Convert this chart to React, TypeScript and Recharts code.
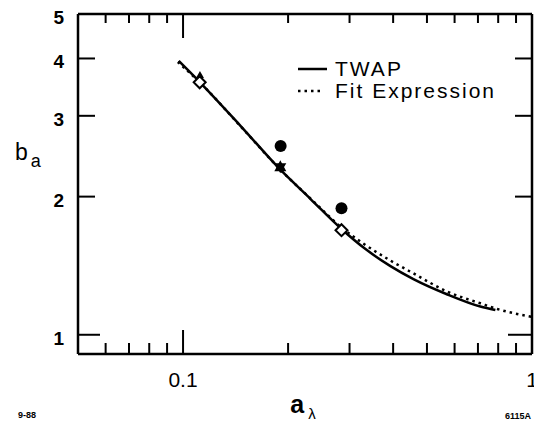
import { ComposedChart, Line, Scatter, XAxis, YAxis, Legend, Label } from "recharts";

const FONT = '"Liberation Sans", Arial, Helvetica, sans-serif';

// axis ticks (log scales)
const xTicks = [0.06, 0.07, 0.08, 0.09, 0.1, 0.2, 0.3, 0.4, 0.5, 0.6, 0.7, 0.8, 0.9, 1];
const xMajor = [0.1, 1];
const xTickLabels = ["0.1", "1"];
const yTicks = [1, 2, 3, 4, 5];
const yTickLabels = ["1", "2", "3", "4", "5"];

const legendOrder = ["TWAP", "Fit Expression"];

// TWAP curve
const twapX = [0.0972, 0.1116, 0.1463, 0.1904, 0.232, 0.2845, 0.3333, 0.393, 0.4573, 0.5724, 0.7112, 0.7853];
const twapY = [3.95, 3.554, 2.85, 2.286, 1.976, 1.7, 1.537, 1.411, 1.322, 1.224, 1.152, 1.132];

// fit expression curve
const fitX = [0.0966, 0.1116, 0.1463, 0.1904, 0.232, 0.2845, 0.3333, 0.393, 0.4573, 0.5724, 0.7112, 0.7955, 1];
const fitY = [3.93, 3.55, 2.845, 2.286, 1.98, 1.713, 1.569, 1.451, 1.361, 1.241, 1.171, 1.138, 1.094];

// markers
const diamondX = [0.1116, 0.2845];
const diamondY = [3.55, 1.69];
const circleX = [0.1904, 0.2845];
const circleY = [2.578, 1.886];
const starX = [0.19];
const starY = [2.317];
const triX = [0.1118];
const triY = [3.68];

const zip = (xs: number[], ys: number[]) => xs.map((x, i) => ({ x, y: ys[i] }));

const twap = zip(twapX, twapY);
const fit = zip(fitX, fitY);
const diamonds = zip(diamondX, diamondY);
const circles = zip(circleX, circleY);
const stars = zip(starX, starY);
const tris = zip(triX, triY);

function BottomTick({ x, y, payload }: any) {
  const i = xMajor.indexOf(payload.value);
  const major = i >= 0;
  return (
    <g>
      <line x1={x} x2={x} y1={y} y2={y - (major ? 24 : 11)} stroke="#000" strokeWidth={2} />
      {major && (
        <text x={x} y={y + 33} textAnchor="middle" fontSize={21} fontFamily={FONT} fill="#000">
          {xTickLabels[i]}
        </text>
      )}
    </g>
  );
}

function TopTick({ x, y, payload }: any) {
  const major = xMajor.includes(payload.value);
  return <line x1={x} x2={x} y1={y} y2={y + (major ? 24 : 9)} stroke="#000" strokeWidth={2} />;
}

function LeftTick({ x, y, payload }: any) {
  const i = yTicks.indexOf(payload.value);
  const len = payload.value === 5 ? 0 : payload.value === 1 ? 22 : 17;
  return (
    <g>
      {len > 0 && <line x1={x} x2={x + len} y1={y} y2={y} stroke="#000" strokeWidth={2} />}
      <text x={x - 14} y={y + 10} textAnchor="end" fontSize={19} fontWeight="bold" fontFamily={FONT} fill="#000">
        {yTickLabels[i]}
      </text>
    </g>
  );
}

function RightTick({ x, y, payload }: any) {
  const len = payload.value === 5 ? 0 : payload.value === 1 ? 24 : 17;
  if (!len) return <g />;
  return <line x1={x} x2={x - len} y1={y} y2={y} stroke="#000" strokeWidth={2} />;
}

const Diamond = ({ cx, cy }: any) => (
  <polygon
    points={`${cx},${cy - 6} ${cx + 6},${cy} ${cx},${cy + 6} ${cx - 6},${cy}`}
    fill="#fff"
    stroke="#000"
    strokeWidth={2}
  />
);

const Dot = ({ cx, cy }: any) => <circle cx={cx} cy={cy} r={6} fill="#000" />;

const Star = ({ cx, cy }: any) => (
  <g fill="#000">
    <polygon points={`${cx},${cy - 7} ${cx + 6},${cy + 4} ${cx - 6},${cy + 4}`} />
    <polygon points={`${cx},${cy + 6} ${cx + 6},${cy - 4} ${cx - 6},${cy - 4}`} />
  </g>
);

const Tri = ({ cx, cy }: any) => (
  <polygon points={`${cx},${cy - 4} ${cx + 4},${cy + 3} ${cx - 4},${cy + 3}`} fill="#000" />
);

function LegendBox({ payload }: any) {
  const items = (payload || [])
    .filter((p: any) => legendOrder.includes(p.value))
    .sort((a: any, b: any) => legendOrder.indexOf(a.value) - legendOrder.indexOf(b.value));
  return (
    <div style={{ fontFamily: FONT }}>
      {items.map((p: any) => (
        <div key={p.value} style={{ display: "flex", alignItems: "center", height: 22 }}>
          <svg width={30} height={22} style={{ display: "block" }}>
            <line
              x1={1}
              x2={p.payload?.strokeDasharray ? 26 : 30}
              y1={11}
              y2={11}
              stroke="#000"
              strokeWidth={2.5}
              strokeDasharray={p.payload?.strokeDasharray}
            />
          </svg>
          <span style={{ marginLeft: 8, fontSize: 21, letterSpacing: 2, color: "#000", lineHeight: "20px", whiteSpace: "nowrap" }}>
            {p.value}
          </span>
        </div>
      ))}
    </div>
  );
}

export default function App() {
  return (
    <div style={{ position: "absolute", left: 0, top: 0, width: 534, height: 422, background: "#fff" }}>
      <ComposedChart width={534} height={422} margin={{ top: 13, right: 1, bottom: 67, left: 77 }}>
        <XAxis
          xAxisId="b"
          dataKey="x"
          type="number"
          scale="log"
          domain={[0.05, 1]}
          allowDataOverflow
          ticks={xTicks}
          interval={0}
          height={1}
          tickSize={0}
          tickMargin={0}
          tick={BottomTick}
          axisLine={{ stroke: "#000", strokeWidth: 2.5 }}
        >
          <Label
            content={({ viewBox }: any) => {
              const cx = viewBox.x + viewBox.width / 2;
              return (
                <g fontFamily={FONT} fill="#000">
                  <text x={cx - 2} y={413} textAnchor="middle" fontSize={25} fontWeight="bold">
                    a<tspan dx={4} dy={6} fontSize={15} fontWeight="normal">λ</tspan>
                  </text>
                  <text x={18} y={418} fontSize={9} fontWeight="bold">9-88</text>
                  <text x={505} y={419} fontSize={9} fontWeight="bold">6115A</text>
                </g>
              );
            }}
          />
        </XAxis>
        <XAxis
          xAxisId="t"
          orientation="top"
          dataKey="x"
          type="number"
          scale="log"
          domain={[0.05, 1]}
          allowDataOverflow
          ticks={xTicks}
          interval={0}
          height={1}
          tickSize={0}
          tickMargin={0}
          tick={TopTick}
          axisLine={{ stroke: "#000", strokeWidth: 2.5 }}
        />
        <YAxis
          yAxisId="l"
          dataKey="y"
          type="number"
          scale="log"
          domain={[0.908, 5]}
          allowDataOverflow
          ticks={yTicks}
          interval={0}
          width={1}
          tickSize={0}
          tickMargin={0}
          tick={LeftTick}
          axisLine={{ stroke: "#000", strokeWidth: 2.5 }}
        >
          <Label
            content={({ viewBox }: any) => (
              <text x={viewBox.x - 62} y={160} fontFamily={FONT} fontSize={23} fill="#000">
                b<tspan dx={3} dy={7} fontSize={18}>a</tspan>
              </text>
            )}
          />
        </YAxis>
        <YAxis
          yAxisId="r"
          orientation="right"
          dataKey="y"
          type="number"
          scale="log"
          domain={[0.908, 5]}
          allowDataOverflow
          ticks={yTicks}
          interval={0}
          width={1}
          tickSize={0}
          tickMargin={0}
          tick={RightTick}
          axisLine={{ stroke: "#000", strokeWidth: 2.5 }}
        />
        <Legend
          layout="horizontal"
          verticalAlign="middle"
          align="center"
          content={LegendBox}
          wrapperStyle={{ left: 297, top: 58, width: "auto", height: "auto" }}
        />
        <Line
          xAxisId="b"
          yAxisId="l"
          data={twap}
          dataKey="y"
          name="TWAP"
          type="monotone"
          stroke="#000"
          strokeWidth={2.5}
          dot={false}
          activeDot={false}
          isAnimationActive={false}
        />
        <Line
          xAxisId="b"
          yAxisId="l"
          data={fit}
          dataKey="y"
          name="Fit Expression"
          type="monotone"
          stroke="#000"
          strokeWidth={2.5}
          strokeDasharray="2.5 4"
          dot={false}
          activeDot={false}
          isAnimationActive={false}
        />
        <Scatter xAxisId="b" yAxisId="l" data={diamonds} dataKey="y" shape={Diamond} legendType="none" isAnimationActive={false} />
        <Scatter xAxisId="b" yAxisId="l" data={circles} dataKey="y" shape={Dot} legendType="none" isAnimationActive={false} />
        <Scatter xAxisId="b" yAxisId="l" data={stars} dataKey="y" shape={Star} legendType="none" isAnimationActive={false} />
        <Scatter xAxisId="b" yAxisId="l" data={tris} dataKey="y" shape={Tri} legendType="none" isAnimationActive={false} />
      </ComposedChart>
    </div>
  );
}
